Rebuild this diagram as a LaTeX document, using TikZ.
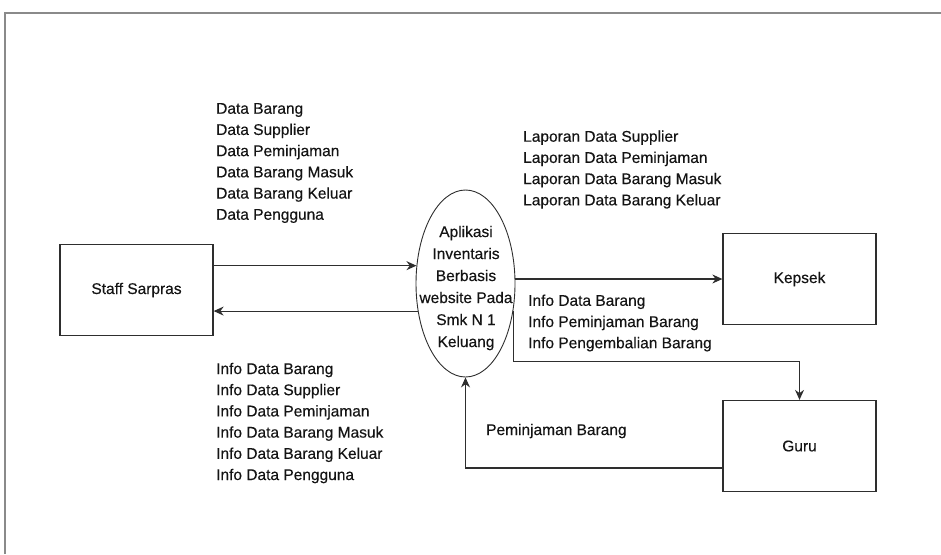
\documentclass[tikz,border=0pt]{standalone}
\usepackage{fontspec}
\setmainfont{Liberation Sans}[FakeBold=0.35]
\usepackage{xcolor}
\usetikzlibrary{positioning,arrows.meta,shapes.geometric}
\definecolor{dfdLine}{HTML}{2E2E2E}
\definecolor{dfdText}{HTML}{141414}
\definecolor{dfdFrame}{HTML}{8A8A8A}

\begin{document}
\begin{tikzpicture}[x=1pt,y=-1pt,
    font=\fontsize{15.5}{21.2}\selectfont,
    entity/.style={draw=dfdLine,line width=1.3pt,minimum width=153pt,minimum height=91pt,text=dfdText},
    flow/.style={draw=dfdLine,line width=1.1pt,-{Stealth[length=10pt,width=9pt]}},
    lbl/.style={anchor=west,align=left,inner sep=0pt,text=dfdText}]
  \useasboundingbox (0,0) rectangle (941,554);
  \draw[dfdFrame,line width=2.5pt] (5,554) -- (5,13) -- (941,13);

  % external entities and the process
  \node[entity] (staff) at (136.5,290) {Staff Sarpras};
  \node[draw=dfdLine,line width=0.9pt,ellipse,minimum width=99pt,minimum height=187pt] (app) at (465.5,283.5) {};
  \node[align=center,inner sep=0pt,text=dfdText,font=\fontsize{15.5}{22}\selectfont] (apptxt) at (466,288)
    {Aplikasi\\Inventaris\\Berbasis\\website Pada\\Smk N 1\\Keluang};
  \node[entity] (kepsek) at (799.5,279) {Kepsek};
  \node[entity] (guru) at (799.5,446) {Guru};

  % data flows
  \draw[flow] (staff.east |- app.160) -- (app.160);
  \draw[flow] (app.210) -- (staff.east |- app.210);
  \draw[flow] (app.east |- kepsek.west) -- (kepsek.west);
  \draw[flow] (app.-30) |- ([yshift=38pt]guru.north) -- (guru.north);
  \draw[flow] ([yshift=-22pt]guru.west) -| (app.south);

  % flow labels
  \node[lbl] (dataIn) at (216,163)
    {Data Barang\\Data Supplier\\Data Peminjaman\\Data Barang Masuk\\Data Barang Keluar\\Data Pengguna};
  \node[lbl] (infoOut) at (216,423)
    {Info Data Barang\\Info Data Supplier\\Info Data Peminjaman\\Info Data Barang Masuk\\Info Data Barang Keluar\\Info Data Pengguna};
  \node[lbl] (laporan) at (523,169.5)
    {Laporan Data Supplier\\Laporan Data Peminjaman\\Laporan Data Barang Masuk\\Laporan Data Barang Keluar};
  \node[lbl] (infoGuru) at (528,323)
    {Info Data Barang\\Info Peminjaman Barang\\Info Pengembalian Barang};
  \node[lbl] (pinjam) at (486,431) {Peminjaman Barang};
\end{tikzpicture}
\end{document}
